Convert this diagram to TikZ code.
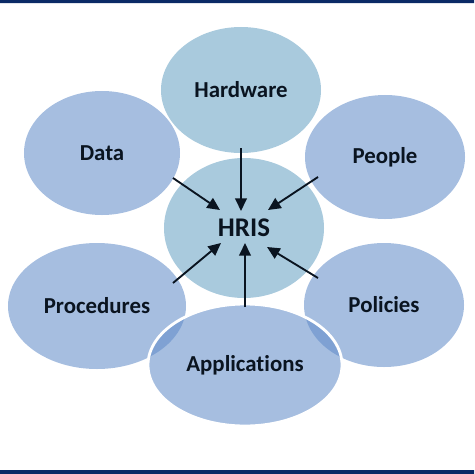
\documentclass[tikz,border=0pt]{standalone}
\usepackage{fontspec}
\setmainfont{Carlito}[Ligatures=NoCommon]
\usetikzlibrary{shapes.geometric, arrows.meta}
\definecolor{navy}{HTML}{0B2A66}
\definecolor{periwinkle}{RGB}{96,139,200}
\definecolor{skyblue}{HTML}{A9CADD}
\definecolor{ink}{HTML}{0A1420}
\tikzset{blob/.style={ellipse, inner sep=0pt, fill=periwinkle, fill opacity=0.56, text opacity=1, text=ink, font=\fontsize{19.5}{23}\selectfont\bfseries},
         core/.style={blob, fill=skyblue, fill opacity=1},
         feed/.style={line width=1.6pt, draw=ink, -{Triangle[length=0.38cm, width=0.35cm]}}
        }

\begin{document}
\begin{tikzpicture}[x=0.03cm, y=-0.03cm]
        \useasboundingbox (0,0) rectangle (474,474);
        \fill [navy] (0,0) rectangle (474,3) (0,470) rectangle (474,474);
        \node [core, minimum width=4.8cm, minimum height=3.78cm] (hardware) at (241,90) {Hardware};
        \node [blob, minimum width=4.68cm, minimum height=3.72cm] (data) at (102,153) {Data};
        \node [blob, minimum width=4.8cm, minimum height=3.72cm] (people) at (385,157) {People};
        \node [core, minimum width=4.8cm, minimum height=4.2cm, font=\fontsize{23}{26}\selectfont\bfseries] (hris) at (244,228) {HRIS};
        \node [blob, minimum width=5.34cm, minimum height=3.78cm] (procedures) at (97,306) {Procedures};
        \node [blob, minimum width=4.8cm, minimum height=3.72cm] (policies) at (384,305) {Policies};
        \node [blob, draw=white, line width=2.4pt, minimum width=5.82cm, minimum height=3.66cm] (applications) at (245,365) {Applications};
        % arrow ends
        \coordinate (hwTail) at (241,148);   \coordinate (hwTip) at (241,211);
        \coordinate (dataTail) at (173,178); \coordinate (dataTip) at (220,210);
        \coordinate (pplTail) at (318,177);  \coordinate (pplTip) at (268,210);
        \coordinate (procTail) at (173,283); \coordinate (procTip) at (221,243);
        \coordinate (appTail) at (245,307);  \coordinate (appTip) at (245,243);
        \coordinate (polTail) at (318,278);  \coordinate (polTip) at (267,247);
        \foreach \a in {hw, data, ppl, proc, app, pol}
          \draw [feed] (\a Tail) -- (\a Tip);
      \end{tikzpicture}
\end{document}
